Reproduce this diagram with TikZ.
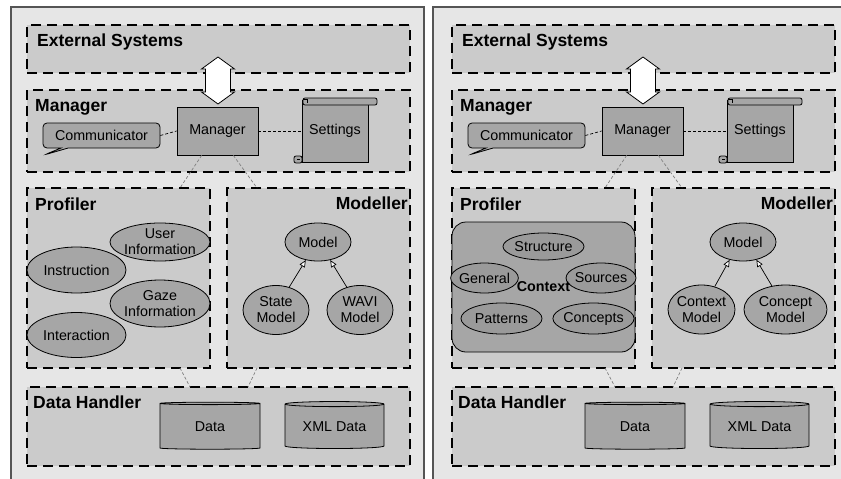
\documentclass[tikz,border=0pt]{standalone}
\usepackage{fontspec}
\setmainfont{Liberation Sans}
\usetikzlibrary{shapes.geometric,shapes.callouts,arrows.meta}

\definecolor{panelgray}{HTML}{E6E6E6}
\definecolor{layergray}{HTML}{CBCBCB}
\definecolor{unitgray}{HTML}{A6A6A6}
\definecolor{ctxgray}{HTML}{9A9A9A}
\definecolor{framegray}{HTML}{555555}

\tikzset{
    panel/.style={draw=framegray, fill=panelgray, line width=1.2pt},
    layer/.style={draw, fill=layergray, line width=1.2pt, dash pattern=on 10pt off 6pt,
        inner sep=0pt, outer sep=0pt, anchor=north west},
    title/.style={font=\fontsize{17.5}{18}\selectfont\bfseries, inner sep=0pt},
    unit/.style={draw, fill=unitgray, line width=0.8pt, font=\fontsize{14.3}{16}\selectfont,
        align=center, inner sep=0pt},
    blob/.style={unit, ellipse, inner sep=-1.5pt},
    store/.style={unit, cylinder, shape border rotate=90, aspect=0.08},
    link/.style={densely dashed, line width=0.7pt},
    isa/.style={-{Triangle[fill=white, length=7pt, width=6pt]}, line width=0.7pt},
}

\begin{document}
\begin{tikzpicture}[x=1pt, y=-1pt]

\useasboundingbox (0,0) rectangle (841,479);

% the two panels
\draw [panel] (11,7) rectangle (424,490);
\draw [panel] (433,7) rectangle (850,490);

% parts both panels share
\foreach \p/\dx in {l/0, r/425} {
\begin{scope}[xshift=\dx]
    \node [layer, minimum width=383, minimum height=48] (\p ext) at (27,25) {};
    \node [title, anchor=west] at (37,42) {External Systems};

    \node [layer, minimum width=383, minimum height=82] (\p mgrlayer) at (27,90) {};
    \node [title, anchor=west] at (35,107) {Manager};

    \node [layer, minimum width=183, minimum height=180] (\p prof) at (27,188) {};
    \node [title, anchor=west] at (35,204) {Profiler};

    \node [layer, minimum width=183, minimum height=180] (\p mod) at (227,188) {};
    \node [title, anchor=east] at (408,203) {Modeller};

    \node [layer, minimum width=383, minimum height=79] (\p dh) at (27,387) {};
    \node [title, anchor=west] at (33,402) {Data Handler};

    % block arrow to the external systems
    \draw [fill=white, line width=0.8pt] (218,57) -- (234.5,69) -- (230.5,69) -- (230.5,92)
        -- (234.5,92) -- (218,104) -- (201.5,92) -- (205.5,92) -- (205.5,69) -- (201.5,69) -- cycle;

    \node [unit, minimum width=81, minimum height=48] (\p mgr) at (217.5,131) {Manager};
    \node [unit, rectangle callout, rounded corners=4pt, minimum width=117, minimum height=25,
        callout absolute pointer={(44,155)}] (\p com) at (101.5,135.5) {Communicator};

    % scroll
    \node [unit, minimum width=66, minimum height=62] (\p set) at (335,131) {Settings};
    \draw [fill=unitgray, line width=0.8pt, rounded corners=2pt] (303,98) rectangle (377,105);
    \draw [line width=0.6pt] (303,99) -- (307,99) -- (307,103);
    \draw [fill=unitgray, line width=0.8pt, rounded corners=2pt] (294,156) rectangle (302,163);
    \draw [line width=0.6pt] (297,159) -- (300,159);

    \draw [link] (\p com.east) -- (\p mgr.west);
    \draw [link] (\p mgr.east) -- (\p set.west);
    \draw [link, gray] (\p mgr.-123) -- ([xshift=-30pt]\p prof.north east);
    \draw [link, gray] (\p mgr.-57) -- ([xshift=30pt]\p mod.north west);
    \draw [link, gray] ([xshift=-30pt]\p prof.south east) -- ([xshift=163pt]\p dh.north west);
    \draw [link, gray] ([xshift=30pt]\p mod.south west) -- ([xshift=221pt]\p dh.north west);

    \node [blob, minimum width=66, minimum height=38] (\p model) at (318,242) {Model};

    \node [store, minimum width=100, minimum height=47] (\p data) at (210,426.5) {Data};
    \node [store, minimum width=99, minimum height=47] (\p xml) at (334.5,426.5) {XML Data};
\end{scope}
}

% left profiler and modeller
\node [blob, minimum width=100, minimum height=38] (user) at (160,242) {User\\Information};
\node [blob, minimum width=99, minimum height=46] (instr) at (76.5,270) {Instruction};
\node [blob, minimum width=100, minimum height=47] (gaze) at (160,303.5) {Gaze\\Information};
\node [blob, minimum width=99, minimum height=45] (inter) at (76.5,335) {Interaction};

\node [blob, minimum width=66, minimum height=49] (state) at (276,310) {State\\Model};
\node [blob, minimum width=66, minimum height=49] (wavi) at (360,310) {WAVI\\Model};
\draw [isa] (state.60) -- (lmodel.-124);
\draw [isa] (wavi.120) -- (lmodel.-56);

% right profiler and modeller
\node [unit, rounded corners=14pt, minimum width=183, minimum height=130] (ctx) at (543.5,287) {};
\node [blob, fill=ctxgray, minimum width=81, minimum height=27] (struct) at (543.5,246.5) {Structure};
\node [blob, fill=ctxgray, minimum width=65, minimum height=30] (general) at (484.5,278) {General};
\node [blob, fill=ctxgray, minimum width=64, minimum height=30] (sources) at (601,278) {Sources};
\node [blob, fill=ctxgray, minimum width=81, minimum height=31] (patterns) at (501.5,318.5) {Patterns};
\node [blob, fill=ctxgray, minimum width=81, minimum height=31] (concepts) at (593.5,318.5) {Concepts};
\node [font=\fontsize{14.3}{16}\selectfont\bfseries, inner sep=0pt] (ctxlabel) at (ctx.center) {Context};

\node [blob, minimum width=67, minimum height=49] (ctxmodel) at (701.5,309.5) {Context\\Model};
\node [blob, minimum width=83, minimum height=49] (cptmodel) at (785.5,309.5) {Concept\\Model};
\draw [isa] (ctxmodel.60) -- (rmodel.-127);
\draw [isa] (cptmodel.120) -- (rmodel.-53);

\end{tikzpicture}
\end{document}
